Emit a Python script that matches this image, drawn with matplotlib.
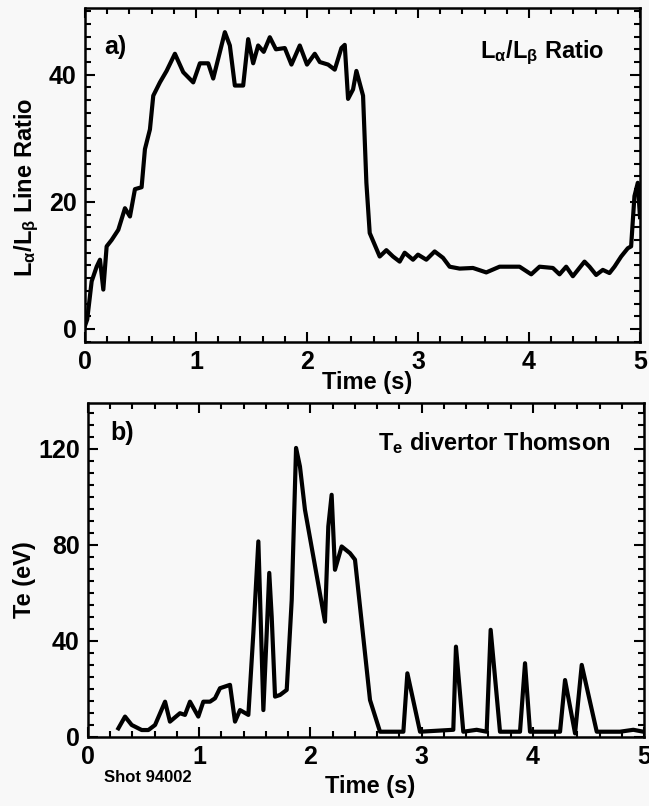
import matplotlib
matplotlib.use('Agg')
import matplotlib.pyplot as plt
from matplotlib.ticker import MultipleLocator

plt.rcParams['font.family'] = ['Liberation Sans Narrow', 'Liberation Sans', 'DejaVu Sans']
plt.rcParams['font.weight'] = 'bold'
plt.rcParams['mathtext.default'] = 'regular'

# a) L_alpha / L_beta line ratio trace
t_ratio = [0.0, 0.02, 0.06, 0.105, 0.135, 0.165, 0.195, 0.24, 0.3, 0.36, 0.405, 0.45, 0.51,
           0.54, 0.585, 0.615, 0.675, 0.735, 0.81, 0.885, 0.975, 1.035, 1.11, 1.155, 1.26,
           1.305, 1.35, 1.425, 1.47, 1.515, 1.56, 1.61, 1.665, 1.72, 1.8, 1.86, 1.935, 2.0,
           2.07, 2.115, 2.19, 2.25, 2.31, 2.34, 2.37, 2.415, 2.445, 2.505, 2.535, 2.565,
           2.655, 2.715, 2.775, 2.835, 2.88, 2.955, 3.0, 3.075, 3.15, 3.225, 3.285, 3.375,
           3.495, 3.615, 3.735, 3.915, 4.02, 4.095, 4.215, 4.275, 4.335, 4.395, 4.5, 4.545,
           4.605, 4.665, 4.725, 4.77, 4.83, 4.89, 4.92, 4.95, 4.98, 5.0]
ratio = [0.5, 1.5, 7.5, 9.8, 10.9, 6.2, 13.0, 14.0, 15.6, 19.0, 17.7, 22.0, 22.3,
         28.3, 31.4, 36.7, 38.8, 40.6, 43.3, 40.4, 38.8, 41.8, 41.8, 39.4, 46.7,
         44.6, 38.3, 38.3, 45.6, 41.8, 44.6, 43.6, 45.9, 44.0, 44.2, 41.6, 44.6, 41.6,
         43.3, 42.0, 41.6, 40.8, 44.2, 44.7, 36.2, 37.7, 40.6, 36.7, 23.0, 15.1,
         11.4, 12.4, 11.4, 10.6, 12.0, 10.9, 11.7, 10.9, 12.2, 11.2, 9.8, 9.5,
         9.6, 8.9, 9.8, 9.8, 8.6, 9.8, 9.6, 8.6, 9.8, 8.3, 10.6, 9.8,
         8.5, 9.3, 8.8, 9.8, 11.4, 12.7, 13.0, 20.9, 23.0, 17.6]

# b) divertor Thomson Te
t_te = [0.273, 0.333, 0.393, 0.483, 0.543, 0.603, 0.693, 0.737, 0.827, 0.872, 0.917, 0.992,
        1.037, 1.097, 1.142, 1.187, 1.277, 1.322, 1.367, 1.442, 1.487, 1.532, 1.547, 1.577,
        1.607, 1.63, 1.652, 1.682, 1.727, 1.787, 1.832, 1.871, 1.906, 1.951, 2.131, 2.161,
        2.191, 2.221, 2.281, 2.356, 2.401, 2.536, 2.626, 2.836, 2.872, 2.986, 3.285, 3.309,
        3.375, 3.495, 3.585, 3.621, 3.705, 3.885, 3.93, 3.975, 4.245, 4.29, 4.38, 4.44,
        4.575, 4.784, 4.904, 4.995]
te = [3.6, 8.5, 5.0, 2.9, 2.9, 5.0, 14.7, 6.4, 9.9, 9.2, 14.7, 8.5,
      14.7, 14.7, 16.1, 20.3, 21.7, 6.4, 11.2, 9.2, 43.2, 81.4, 58.5, 11.2,
      43.2, 68.3, 50.0, 16.8, 17.5, 19.6, 57.0, 120.3, 112.6, 94.6, 48.0, 87.6,
      100.8, 69.6, 79.3, 76.5, 73.8, 15.4, 2.2, 2.2, 26.5, 2.2, 3.0, 37.6,
      2.2, 3.0, 2.2, 44.6, 2.2, 2.2, 30.7, 2.2, 2.2, 23.7, 1.5, 30.0,
      2.2, 2.2, 3.0, 2.2]

W, H = 649, 806
fig = plt.figure(figsize=(W / 100, H / 100), dpi=100, facecolor='#f8f8f8')


def px(x, y):
    return x / W, 1 - y / H


def style(ax, ymaj, ymin):
    ax.set_facecolor('#f8f8f8')
    for s in ax.spines.values():
        s.set_linewidth(1.8)
    ax.xaxis.set_major_locator(MultipleLocator(1))
    ax.xaxis.set_minor_locator(MultipleLocator(0.2))
    ax.yaxis.set_major_locator(MultipleLocator(ymaj))
    ax.yaxis.set_minor_locator(MultipleLocator(ymin))
    ax.tick_params(which='both', direction='in', top=True, right=True,
                   labelsize=18, width=1.5, pad=6)
    ax.tick_params(which='major', length=7)
    ax.tick_params(which='minor', length=4)
    for lab in ax.get_xticklabels() + ax.get_yticklabels():
        lab.set_fontweight('bold')


ax1 = fig.add_axes([85 / W, 1 - 341.7 / H, 555 / W, 333.7 / H])
ax1.plot(t_ratio, ratio, color='black', lw=3.0)
ax1.set_xlim(0, 5)
ax1.set_ylim(-2, 50.5)
style(ax1, 20, 2)

ax2 = fig.add_axes([88 / W, 1 - 737 / H, 556 / W, 334 / H])
ax2.plot(t_te, te, color='black', lw=3.0)
ax2.set_xlim(0, 5)
ax2.set_ylim(0, 139)
style(ax2, 40, 5)

fig.text(*px(115, 47), 'a)', ha='center', va='center', fontsize=18)
fig.text(*px(122, 433), 'b)', ha='center', va='center', fontsize=18)
fig.text(*px(542, 53), r'L$_\alpha$/L$_\beta$ Ratio', ha='center', va='center', fontsize=17)
fig.text(*px(494, 443), r'T$_e$ divertor Thomson', ha='center', va='center', fontsize=17)
fig.text(*px(27, 187), r'L$_\alpha$/L$_\beta$ Line Ratio', ha='center', va='center',
         rotation=90, fontsize=17)
fig.text(*px(25, 580), 'Te (eV)', ha='center', va='center', rotation=90, fontsize=17)
fig.text(*px(367, 383), 'Time (s)', ha='center', va='center', fontsize=17)
fig.text(*px(370, 787), 'Time (s)', ha='center', va='center', fontsize=17)
fig.text(*px(148, 777), 'Shot 94002', ha='center', va='center', fontsize=12)

fig.savefig('out.png', dpi=100, facecolor=fig.get_facecolor())
